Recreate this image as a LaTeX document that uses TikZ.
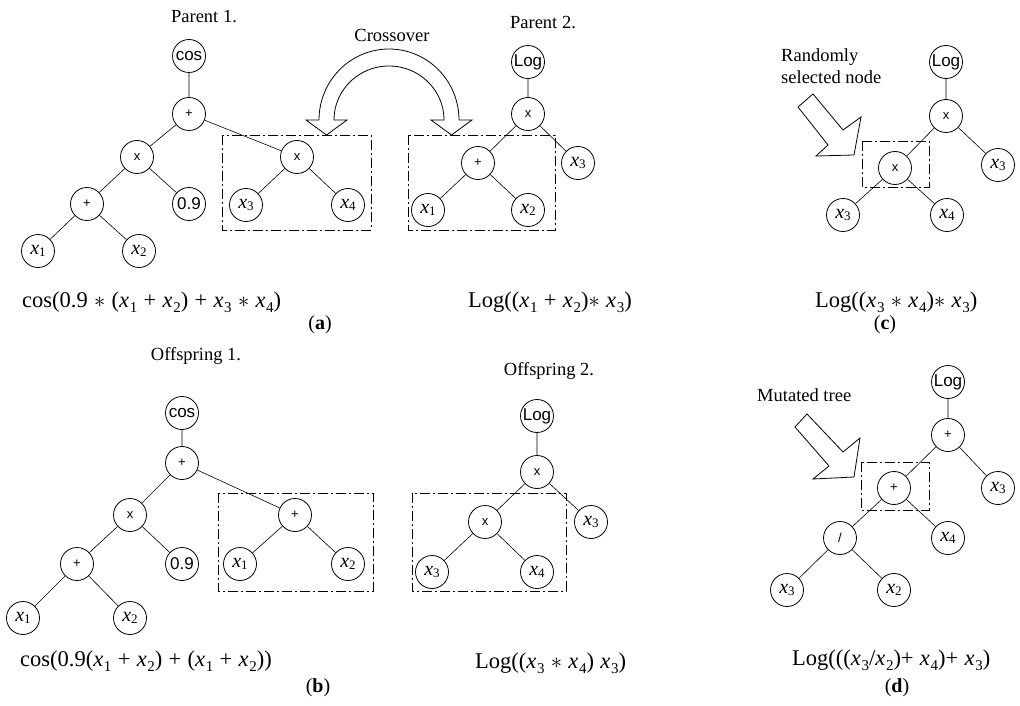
\RequirePackage{fix-cm}
\documentclass[tikz,border=0pt]{standalone}
\usepackage{fontspec}
\setmainfont{Liberation Serif}
\newfontfamily\nsf{Liberation Sans}
\usetikzlibrary{calc}

% tree node label helpers
\newcommand{\vx}[1]{{\fontsize{20}{20}\selectfont\textit{x}\raisebox{-0.25ex}{\fontsize{13}{13}\selectfont #1}}}
\newcommand{\fml}{\fontsize{22.5}{26}\selectfont}
% pieces of the expressions under each tree
\newcommand{\xv}[1]{\textit{x}\kern0.03em\raisebox{-0.22em}{\fontsize{15}{15}\selectfont #1}}
\newcommand{\bsp}{\hspace{0.28em}}
\newcommand{\mul}{\bsp$\ast$\bsp}
\newcommand{\pls}{\bsp+\bsp}

\begin{document}
\begin{tikzpicture}[x=1pt,y=-1pt,
  tn/.style={circle, draw, line width=0.8pt, minimum size=33pt, inner sep=0pt},
  fn/.style={tn, font=\nsf\fontsize{17}{17}\selectfont},
  op/.style={tn, font=\nsf\fontsize{13}{13}\selectfont},
  var/.style={tn},
  edge/.style={line width=0.6pt},
  selbox/.style={line width=0.8pt, dash pattern=on 10pt off 3pt on 2pt off 3pt},
  blockarrow/.style={line width=0.8pt, line join=miter, fill=white},
  lbl/.style={font=\fontsize{18.5}{21}\selectfont, inner sep=0pt},
  formula/.style={font=\fml, inner sep=0pt, anchor=west},
  subcap/.style={font=\fontsize{20}{24}\selectfont, inner sep=0pt}
]
\path[use as bounding box] (0,0) rectangle (1020,706);

% ---------------- (a) crossover: parents ----------------
\node[lbl] (tp1) at (204,17) {Parent 1.};
\node[lbl] (tco) at (392,35) {Crossover};
\node[lbl] (tp2) at (543,23) {Parent 2.};

% selection boxes
\draw[selbox] (222,135) rectangle (371,230);
\draw[selbox] (408,135) rectangle (555,230);

% Parent 1 tree
\node[fn]  (a1) at (189,56)  {cos};
\node[op]  (a2) at (189,114) {+};
\node[op]  (a3) at (137,157) {x};
\node[op]  (a4) at (87,204)  {+};
\node[fn]  (a5) at (189,204) {0.9};
\node[var] (a6) at (38,251)  {\vx{1}};
\node[var] (a7) at (139,251) {\vx{2}};
\node[op]  (a8) at (297,157) {x};
\node[var] (a9) at (246,205) {\vx{3}};
\node[var] (a10) at (348,205) {\vx{4}};
\draw[edge] (a1)--(a2) (a2)--(a3) (a3)--(a4) (a3)--(a5) (a4)--(a6) (a4)--(a7)
            (a2)--(a8) (a8)--(a9) (a8)--(a10);

% Parent 2 tree
\node[fn]  (b1) at (528,62)  {Log};
\node[op]  (b2) at (528,114) {x};
\node[op]  (b3) at (478,163) {+};
\node[var] (b4) at (578,163) {\vx{3}};
\node[var] (b5) at (428,210) {\vx{1}};
\node[var] (b6) at (528,210) {\vx{2}};
\draw[edge] (b1)--(b2) (b2)--(b3) (b2)--(b4) (b3)--(b5) (b3)--(b6);

% curved exchange arrow
\draw[blockarrow]
  (319,120) -- (306,120) -- (326.5,135) -- (347,120) -- (334,120)
  -- plot[variable=\t, domain=180:0, samples=72] ({389+55*cos(\t)},{120-54*sin(\t)})
  -- (431,120) -- (451.5,135) -- (472,120) -- (459,120)
  -- plot[variable=\t, domain=0:180, samples=72] ({389+70*cos(\t)},{120-71*sin(\t)})
  -- cycle;

\node[formula] (fa1) at (22,302) {cos(0.9\mul(\xv1\pls\xv2)\pls\xv3\mul\xv4)};
\node[formula] (fa2) at (468,302) {Log((\xv1\pls\xv2)$\ast$\bsp\xv3)};
\node[subcap] (ca) at (320,325) {({\bfseries a})};

% ---------------- (c) selected node ----------------
\node[lbl, align=left, anchor=west, font=\fontsize{18.5}{22}\selectfont] (tsel) at (781,66) {Randomly\\selected node};
\draw[blockarrow] (798,107) -- (813,94) -- (843,130) -- (861,117) -- (854,155)
  -- (816,156) -- (828,145) -- cycle;
\draw[selbox] (862,141) rectangle (929,187);
\node[fn]  (c1) at (946,62)  {Log};
\node[op]  (c2) at (946,116) {x};
\node[op]  (c3) at (895,168) {x};
\node[var] (c4) at (998,165) {\vx{3}};
\node[var] (c5) at (843,215) {\vx{3}};
\node[var] (c6) at (947,215) {\vx{4}};
\draw[edge] (c1)--(c2) (c2)--(c3) (c2)--(c4) (c3)--(c5) (c3)--(c6);
\node[formula] (fc) at (815,302) {Log((\xv3\mul\xv4)$\ast$\bsp\xv3)};
\node[subcap] (cc) at (885,325) {({\bfseries c})};

% ---------------- (b) offspring ----------------
\node[lbl] (to1) at (196,356) {Offspring 1.};
\node[lbl] (to2) at (549,371) {Offspring 2.};

\draw[selbox] (218,493) rectangle (373,591);
\draw[selbox] (412,493) rectangle (566,591);

% Offspring 1 tree
\node[fn]  (d1) at (182,413) {cos};
\node[op]  (d2) at (182,463) {+};
\node[op]  (d3) at (130,515) {x};
\node[op]  (d4) at (77,564)  {+};
\node[fn]  (d5) at (182,564) {0.9};
\node[var] (d6) at (23,618)  {\vx{1}};
\node[var] (d7) at (130,618) {\vx{2}};
\node[op]  (d8) at (295,515) {+};
\node[var] (d9) at (240,564) {\vx{1}};
\node[var] (d10) at (348,564) {\vx{2}};
\draw[edge] (d1)--(d2) (d2)--(d3) (d3)--(d4) (d3)--(d5) (d4)--(d6) (d4)--(d7)
            (d2)--(d8) (d8)--(d9) (d8)--(d10);

% Offspring 2 tree
\node[fn]  (e1) at (537,416) {Log};
\node[op]  (e2) at (537,472) {x};
\node[op]  (e3) at (485,522) {x};
\node[var] (e4) at (591,522) {\vx{3}};
\node[var] (e5) at (432,572) {\vx{3}};
\node[var] (e6) at (537,572) {\vx{4}};
\draw[edge] (e1)--(e2) (e2)--(e3) (e2)--(e4) (e3)--(e5) (e3)--(e6);

\node[formula] (fb1) at (20,661) {cos(0.9(\xv1\pls\xv2)\pls(\xv1\pls\xv2))};
\node[formula] (fb2) at (475,663) {Log((\xv3\mul\xv4)\bsp\xv3)};
\node[subcap] (cb) at (318,688) {({\bfseries b})};

% ---------------- (d) mutation ----------------
\node[lbl, anchor=west] (tmut) at (757,395) {Mutated tree};
\draw[blockarrow] (795,427) -- (807,414) -- (843,452) -- (860,438) -- (854,477)
  -- (813,479) -- (829,466) -- cycle;
\draw[selbox] (861,462) rectangle (929,510);
\node[fn]  (g1) at (948,382) {Log};
\node[op]  (g2) at (948,435) {+};
\node[op]  (g3) at (894,488) {+};
\node[var] (g4) at (998,488) {\vx{3}};
\node[op]  (g5) at (840,538) {/};
\node[var] (g6) at (948,538) {\vx{4}};
\node[var] (g7) at (787,590) {\vx{3}};
\node[var] (g8) at (894,590) {\vx{2}};
\draw[edge] (g1)--(g2) (g2)--(g3) (g2)--(g4) (g3)--(g5) (g3)--(g6) (g5)--(g7) (g5)--(g8);
\node[formula] (fd) at (792,660) {Log(((\xv3/\xv2)+\bsp\xv4)+\bsp\xv3)};
\node[subcap] (cd) at (897,688) {({\bfseries d})};

\end{tikzpicture}
\end{document}
